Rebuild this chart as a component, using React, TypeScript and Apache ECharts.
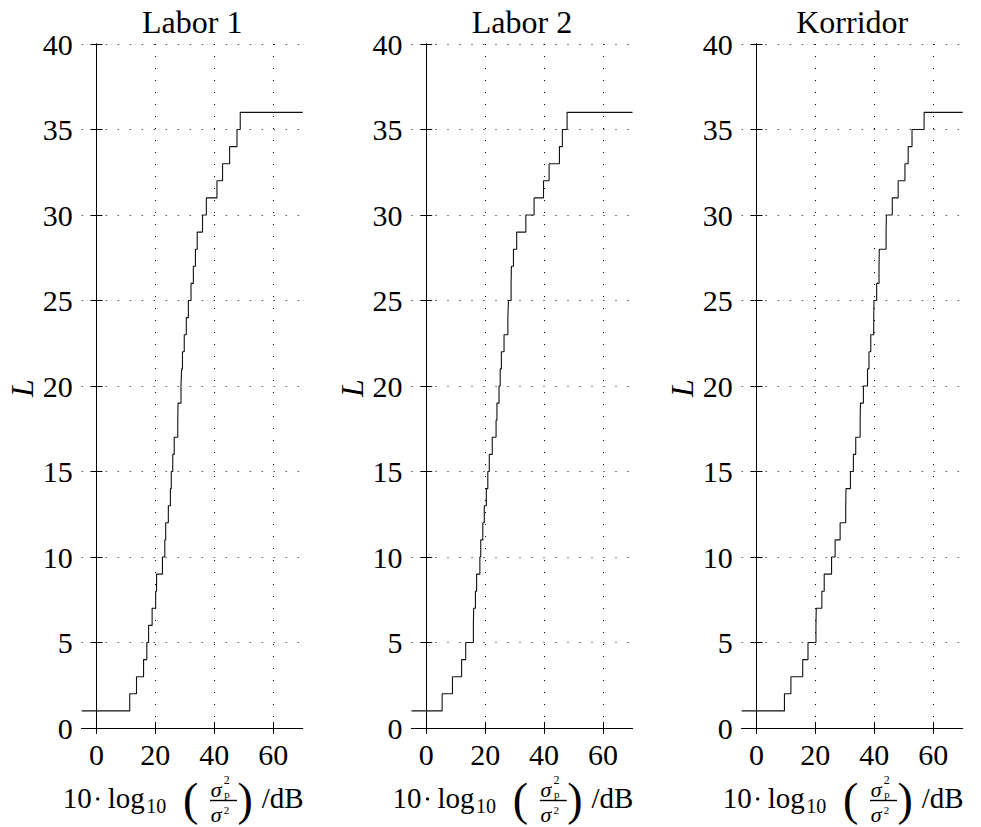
import React, { useEffect, useRef } from "react";
import * as echarts from "echarts";

// Anzahl L (Stufenhöhe) und die Schwellen in dB, ab denen jede Stufe erreicht wird
const stufen = [
  1, 2, 3, 4, 5, 6, 7, 8, 9, 10, 11, 12, 13, 14, 15, 16, 17, 18,
  19, 20, 21, 22, 23, 24, 25, 26, 27, 28, 29, 30, 31, 32, 33, 34, 35, 36,
];
const labor1X = [
  -5, 11.3, 13.6, 16.0, 17.1, 17.7, 18.9, 20.1, 20.4, 22.4, 23.2, 23.5,
  24.4, 25.1, 25.4, 25.9, 26.4, 27.6, 27.7, 28.7, 28.9, 29.2, 29.8, 30.5,
  31.2, 32.1, 32.9, 33.6, 34.2, 36.0, 37.3, 40.9, 42.8, 45.2, 47.7, 48.8,
];
const labor2X = [
  -5, 5.4, 8.9, 12.0, 13.4, 16.0, 16.1, 16.7, 17.1, 18.2, 18.5, 19.2,
  19.7, 20.4, 20.9, 21.4, 22.4, 23.7, 24.0, 24.7, 25.1, 25.5, 26.4, 27.7,
  27.9, 28.8, 28.9, 29.6, 30.7, 33.8, 36.6, 39.8, 41.7, 45.2, 46.2, 47.8,
];
const korridorX = [
  -5, 9.5, 11.7, 15.7, 17.5, 20.2, 20.3, 22.2, 23.0, 25.5, 26.7, 28.4,
  30.3, 30.4, 31.9, 32.9, 33.7, 35.2, 35.3, 36.3, 37.7, 38.2, 38.8, 39.8,
  39.9, 40.8, 41.6, 41.7, 44.0, 44.1, 46.1, 48.1, 50.4, 51.5, 52.8, 56.9,
];
const titel = ["Labor 1", "Labor 2", "Korridor"];
const xTicks = [0, 20, 40, 60];
const xMin = -5;
const xMax = 70;
const yMin = 0;
const yMax = 40;
const yStep = 5;

const FONT = "Liberation Serif, DejaVu Serif, serif";
const panelLeft = [81.7, 411.5, 741.7];
const panelWidth = 221;
const panelTop = 44;
const panelHeight = 684;

const dotted = { color: "#000", width: 1, type: [1, 11] as number[] };

function txt(
  x: number,
  y: number,
  text: string,
  size: number,
  align: string,
  extra: Record<string, unknown> = {}
) {
  return {
    type: "text",
    x,
    y,
    silent: true,
    style: {
      text,
      fontFamily: FONT,
      fontSize: size,
      fill: "#000",
      textAlign: align,
      textVerticalAlign: "middle",
      ...extra,
    },
  };
}

// x-axis label: 10 · log10 (σp² / σ²) /dB
function xLabel(left: number) {
  const it = { fontStyle: "italic" };
  return [
    txt(left - 19, 798, "10", 29, "left"),
    {
      type: "circle",
      silent: true,
      shape: { cx: left + 16, cy: 799, r: 1.6 },
      style: { fill: "#000" },
    },
    txt(left + 26, 798, "log", 29, "left"),
    txt(left + 64.5, 806, "10", 20, "left"),
    txt(left + 109, 799, "(", 46, "center", { fontWeight: 300 }),
    txt(left + 134.5, 789, "σ", 22, "center", it),
    txt(left + 142, 779.5, "2", 12, "left"),
    txt(left + 142.5, 793.5, "p", 11, "left"),
    {
      type: "line",
      silent: true,
      shape: { x1: left + 128.3, y1: 800.5, x2: left + 155.3, y2: 800.5 },
      style: { stroke: "#000", lineWidth: 1.4 },
    },
    txt(left + 134.5, 814, "σ", 22, "center", it),
    txt(left + 142, 809.5, "2", 11, "left"),
    txt(left + 163.5, 799, ")", 46, "center", { fontWeight: 300 }),
    txt(left + 180, 798, "/dB", 29, "left"),
  ];
}

export default function App() {
  const ref = useRef<HTMLDivElement>(null);

  useEffect(() => {
    if (!ref.current) return;
    const chart = echarts.init(ref.current, undefined, { renderer: "svg" });
    const reihen = [labor1X, labor2X, korridorX];

    const grid = panelLeft.map((left) => ({
      left,
      top: panelTop,
      width: panelWidth,
      height: panelHeight,
      containLabel: false,
    }));

    const axisLine = { show: true, lineStyle: { color: "#000", width: 1 } };
    const tick = { show: true, inside: true, length: 6, lineStyle: { color: "#000", width: 1 } };
    const label = { color: "#000", fontFamily: FONT, fontSize: 30 };

    const xAxis: any[] = [];
    const yAxis: any[] = [];
    panelLeft.forEach((_, i) => {
      xAxis.push({
        type: "value",
        gridIndex: i,
        min: xMin,
        max: xMax,
        position: "bottom",
        axisLine,
        axisTick: { ...tick, customValues: xTicks },
        axisLabel: { ...label, margin: 11, customValues: xTicks },
        splitLine: { show: true, lineStyle: dotted },
      });
      yAxis.push({
        type: "value",
        gridIndex: i,
        min: yMin,
        max: yMax,
        interval: yStep,
        position: "left",
        axisLine,
        axisTick: tick,
        axisLabel: { ...label, margin: 9 },
        splitLine: { show: true, lineStyle: dotted },
      });
    });
    // mirrored axes for the closed box with inward ticks
    panelLeft.forEach((_, i) => {
      xAxis.push({
        type: "value",
        gridIndex: i,
        min: xMin,
        max: xMax,
        position: "top",
        axisLine,
        axisTick: { ...tick, customValues: xTicks },
        axisLabel: { show: false, customValues: xTicks },
        splitLine: { show: false },
      });
      yAxis.push({
        type: "value",
        gridIndex: i,
        min: yMin,
        max: yMax,
        interval: yStep,
        position: "right",
        axisLine,
        axisTick: tick,
        axisLabel: { show: false },
        splitLine: { show: false },
      });
    });

    const series = reihen.map((xs, i) => {
      const data = stufen.map((l, k) => [xs[k], l]);
      data.push([xMax, stufen[stufen.length - 1]]);
      return {
        type: "line",
        xAxisIndex: i,
        yAxisIndex: i,
        step: "end",
        data,
        symbol: "none",
        lineStyle: { color: "#111", width: 1.1 },
        clip: true,
      };
    });

    const graphic: any[] = [];
    panelLeft.forEach((left, i) => {
      graphic.push(txt(left + panelWidth / 2, 22, titel[i], 32, "center"));
      graphic.push({
        ...txt(left - 59.7, 388, "L", 32, "center", { fontStyle: "italic" }),
        rotation: Math.PI / 2,
      });
      graphic.push(...xLabel(left));
    });

    chart.setOption({
      animation: false,
      backgroundColor: "#fff",
      grid,
      xAxis,
      yAxis,
      series,
      graphic,
    });
    return () => chart.dispose();
  }, []);

  return (
    <div
      ref={ref}
      style={{ position: "fixed", left: 0, top: 0, width: 981, height: 827 }}
    />
  );
}
